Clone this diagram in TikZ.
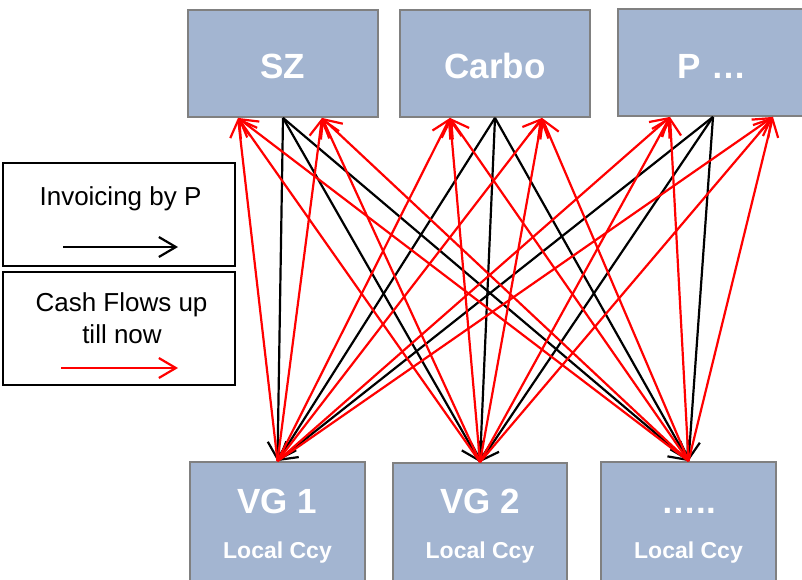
\documentclass[tikz,border=0pt]{standalone}
\usepackage{fontspec}
\setmainfont{Liberation Sans}
\usetikzlibrary{arrows.meta}

\definecolor{boxfill}{RGB}{163,181,209}
\definecolor{boxline}{RGB}{128,128,128}
\definecolor{flowred}{RGB}{255,0,0}

\tikzset{
  entity/.style={draw=boxline, line width=1.8pt, fill=boxfill, inner sep=0pt},
  legendbox/.style={draw=black, line width=1.6pt, fill=white, inner sep=0pt},
  bigname/.style={anchor=base, text=white, font=\fontsize{35}{40}\selectfont\bfseries},
  subname/.style={anchor=base, text=white, font=\fontsize{23}{28}\selectfont\bfseries},
  legendtext/.style={anchor=base, text=black, font=\fontsize{26}{32}\selectfont},
  barb/.tip={Straight Barb[length=17pt, width=20pt]},
  invoice/.style={draw=black, line width=2.2pt, -barb},
  cash/.style={draw=flowred, line width=2.2pt, -barb},
}

\begin{document}
\begin{tikzpicture}[x=1pt, y=-1pt]
\useasboundingbox (0,0) rectangle (802,579);

% upper row of companies
\node[entity, minimum width=190pt, minimum height=107pt] (sz)    at (283,63.5) {};
\node[entity, minimum width=190pt, minimum height=107pt] (carbo) at (495,63.5) {};
\node[entity, minimum width=190pt, minimum height=107pt] (pp)    at (713,62.5) {};
\node[bigname] (szt)    at (283,78) {SZ};
\node[bigname] (carbot) at (495,78) {Carbo};
\node[bigname] (ppt)    at (712,78) {P …};

% lower row of local entities
\node[entity, minimum width=175pt, minimum height=138pt] (vg1) at (277.5,531) {};
\node[entity, minimum width=174pt, minimum height=137pt] (vg2) at (480,531.5) {};
\node[entity, minimum width=175pt, minimum height=138pt] (vg3) at (688.5,531) {};
\node[bigname] (vg1t) at (277.5,513) {VG 1};
\node[bigname] (vg2t) at (480,513) {VG 2};
\node[bigname] (vg3t) at (688.5,513) {…..};
\node[subname] (vg1c) at (277.5,558) {Local Ccy};
\node[subname] (vg2c) at (480,558) {Local Ccy};
\node[subname] (vg3c) at (688.5,558) {Local Ccy};

% arrival points of the cash flows on the upper boxes
\coordinate (szA)    at ([xshift=-45pt]sz.south);
\coordinate (szB)    at ([xshift=39pt]sz.south);
\coordinate (carboA) at ([xshift=-45pt]carbo.south);
\coordinate (carboB) at ([xshift=47pt]carbo.south);
\coordinate (ppA)    at ([xshift=-43pt]pp.south);
\coordinate (ppB)    at ([xshift=60pt]pp.south);

% invoicing: every company to every local entity
\foreach \t in {sz,carbo,pp}
  \foreach \b in {vg1,vg2,vg3}
    \draw[invoice] (\t.south) -- (\b.north);

% cash flows: every local entity back to the companies
\foreach \t in {szA,szB,carboA,carboB,ppA,ppB}
  \foreach \b in {vg1,vg2,vg3}
    \draw[cash] (\b.north) -- (\t);

% legend
\node[legendbox, minimum width=232pt, minimum height=103pt] (leg1) at (119,214.5) {};
\node[legendbox, minimum width=232pt, minimum height=113pt] (leg2) at (119,328.5) {};
\node[legendtext] (leg1t)  at (120.5,205) {Invoicing by P};
\node[legendtext] (leg2t)  at (121.5,311) {Cash Flows up};
\node[legendtext] (leg2u)  at (122,343) {till now};
\coordinate (l1s) at (63,247);
\coordinate (l1e) at (178,247);
\coordinate (l2s) at (61,368);
\coordinate (l2e) at (178,368);
\draw[invoice] (l1s) -- (l1e);
\draw[cash] (l2s) -- (l2e);
\end{tikzpicture}
\end{document}
